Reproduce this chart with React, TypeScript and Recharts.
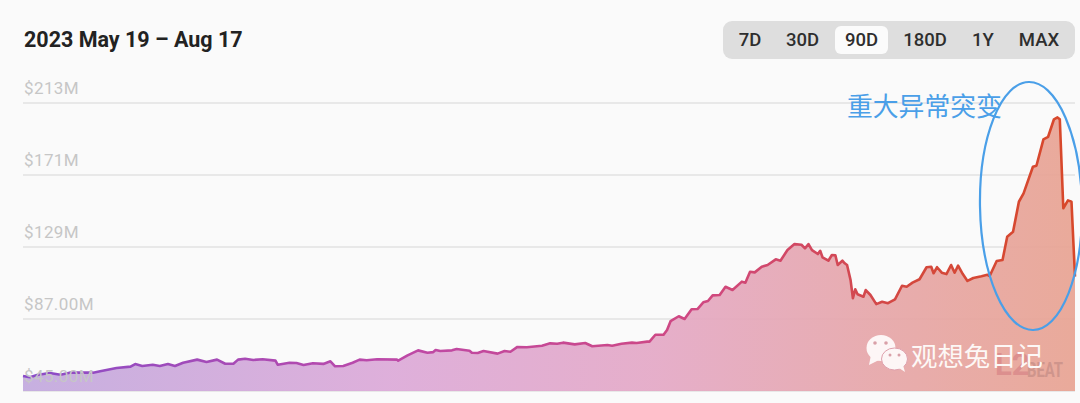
import React from 'react';
import { AreaChart, Area, XAxis, YAxis, CartesianGrid } from 'recharts';

// days since May 19 and TVL in $M
const days = [
  0, 0.6, 1.2, 2.3, 3.2, 4.0, 6.0, 6.6, 8.0, 9.2, 9.6, 10.2, 11.1, 11.7, 12.4, 13.0, 13.7, 14.9, 15.7, 16.6,
  17.3, 18.0, 18.4, 19.0, 19.7, 20.5, 21.6, 21.8, 22.8, 23.4, 24.0, 24.8, 25.7, 26.3, 26.7, 27.4, 28.2, 28.8, 29.4, 30.3,
  32.0, 32.1, 32.9, 33.8, 34.6, 35.1, 35.3, 35.7, 36.7, 37.1, 38.2, 38.4, 38.9, 39.4, 40.6, 41.2, 41.7, 42.3, 43.1, 44.4,
  45.1, 45.7, 46.2, 47.2, 48.1, 48.7, 50.0, 50.4, 51.2, 52.1, 52.5, 53.4, 53.6, 54.1, 54.8, 55.1, 55.4, 56.1, 56.6, 57.2,
  57.7, 58.2, 58.6, 59.0, 59.6, 60.1, 60.7, 61.5, 61.8, 62.2, 62.6, 63.2, 63.7, 64.4, 64.8, 65.4, 66.0, 66.6, 66.9, 67.2,
  67.5, 68.0, 68.2, 68.4, 68.9, 69.2, 69.5, 69.7, 70.1, 70.3, 70.5, 70.8, 71.0, 71.2, 71.4, 71.9, 72.1, 72.5, 73.0, 73.5,
  74.0, 74.6, 75.2, 75.6, 76.1, 76.7, 77.3, 77.7, 77.9, 78.2, 78.6, 79.0, 79.4, 79.7, 80.0, 80.4, 80.8, 81.3, 82.0, 82.5,
  82.7, 83.3, 83.8, 84.2, 84.7, 85.2, 85.6, 86.4, 86.7, 87.3, 87.7, 88.2, 88.5, 88.7, 89.0, 89.4, 89.7, 90,
];
const tvl = [
  53.8, 53.0, 54.3, 55.5, 54.5, 55.7, 55.7, 56.5, 58.4, 59.2, 60.7, 59.6, 60.3, 59.6, 60.7, 59.6, 61.5, 63.3, 61.9, 63.3,
  60.9, 60.9, 63.3, 63.8, 63.1, 63.5, 62.7, 60.3, 61.5, 61.3, 60.2, 61.2, 60.8, 62.3, 59.4, 59.6, 61.5, 63.3, 62.9, 63.5,
  63.3, 62.7, 65.8, 68.7, 67.3, 67.7, 68.9, 68.3, 68.7, 69.5, 68.5, 67.3, 67.2, 68.3, 66.8, 68.3, 67.9, 70.7, 70.5, 71.4,
  72.8, 72.6, 73.2, 72.2, 73.0, 71.1, 71.8, 71.4, 72.6, 73.2, 73.0, 73.8, 73.8, 77.8, 77.8, 80.6, 85.7, 88.6, 87.0, 92.7,
  92.8, 96.7, 97.5, 100.8, 101.0, 105.8, 103.9, 108.8, 108.2, 114.6, 114.2, 117.5, 118.5, 121.8, 121.0, 127.2, 130.7, 130.3, 128.2, 130.7,
  127.2, 124.9, 126.8, 123.0, 121.0, 124.3, 124.2, 118.5, 121.0, 119.5, 118.5, 109.7, 99.1, 104.3, 101.4, 100.0, 103.9, 101.0, 95.7, 97.1,
  96.2, 98.5, 106.4, 105.8, 108.2, 110.2, 117.2, 117.5, 113.7, 117.2, 114.0, 113.2, 118.5, 114.0, 118.1, 113.2, 109.2, 110.9, 111.9, 112.8,
  112.1, 120.8, 121.4, 135.0, 137.9, 155.4, 160.3, 175.8, 176.4, 191.8, 193.3, 203.5, 204.6, 203.5, 151.6, 156.2, 155.4, 111.7,
];
const yTicks = [45, 87, 129, 171, 213];
const yLabels = ['$45.00M', '$87.00M', '$129M', '$171M', '$213M'];
const ranges = ['7D', '30D', '90D', '180D', '1Y', 'MAX'];
const rangeWidths = [48, 57, 53, 74, 42, 70];

const chartData = days.map((d, i) => ({ day: d, value: tvl[i] }));

const YTick = ({ y, index }: any) => (
  <text x={24} y={y - 9} fill="#c6c6c6" fontSize={17} fontFamily="Roboto" letterSpacing={0.4}>
    {yLabels[index]}
  </text>
);

export default function App() {
  return (
    <div style={{ position: 'absolute', left: 0, top: 0, width: 1080, height: 403, background: '#fafafa', overflow: 'hidden' }}>
      <div style={{ position: 'absolute', left: 24, top: 27, fontFamily: 'Roboto', fontWeight: 700, fontSize: 21.5, lineHeight: '26px', color: '#222' }}>
        2023 May 19 – Aug 17
      </div>

      {/* range switch */}
      <div style={{ position: 'absolute', left: 723, top: 21, width: 352, height: 38, background: '#dedede', borderRadius: 9, display: 'flex', alignItems: 'center', paddingLeft: 3, boxSizing: 'border-box' }}>
        {ranges.map((r, i) => (
          <div key={r} style={{
            width: rangeWidths[i], height: 28, lineHeight: '28px', textAlign: 'center', borderRadius: 6, marginLeft: r === '90D' ? 4 : 0,
            background: r === '90D' ? '#fbfbfb' : 'transparent', fontFamily: 'Roboto', fontWeight: 500, fontSize: 18.5, color: '#2e2e2e',
          }}>{r}</div>
        ))}
      </div>

      <AreaChart width={1080} height={403} data={chartData} margin={{ top: 103, right: 5, bottom: 12, left: 23 }} style={{ position: 'absolute', left: 0, top: 0 }}>
        <defs>
          <linearGradient id="lineGrad" x1="0" y1="0" x2="1" y2="0">
            <stop offset="0%" stopColor="#8a4cc8" />
            <stop offset="35%" stopColor="#bd49a8" />
            <stop offset="65%" stopColor="#d04880" />
            <stop offset="85%" stopColor="#d4483c" />
            <stop offset="100%" stopColor="#d8482a" />
          </linearGradient>
          <linearGradient id="fillGrad" x1="0" y1="0" x2="1" y2="0">
            <stop offset="0%" stopColor="#c2a9de" stopOpacity={0.92} />
            <stop offset="35%" stopColor="#dca9d8" stopOpacity={0.92} />
            <stop offset="60%" stopColor="#e4a8c6" stopOpacity={0.92} />
            <stop offset="80%" stopColor="#e6a6aa" stopOpacity={0.92} />
            <stop offset="100%" stopColor="#e8a392" stopOpacity={0.92} />
          </linearGradient>
        </defs>
        <CartesianGrid horizontal vertical={false} stroke="#e2e2e2" strokeWidth={1.5} />
        <XAxis type="number" dataKey="day" domain={[0, 90]} hide />
        <YAxis type="number" domain={[45, 213]} ticks={yTicks} mirror width={1} axisLine={false} tickLine={false} tick={<YTick />} interval={0} />
        <Area type="linear" dataKey="value" stroke="url(#lineGrad)" strokeWidth={2.6} strokeLinejoin="round" fill="url(#fillGrad)" fillOpacity={1} baseValue={45} dot={false} activeDot={false} isAnimationActive={false} />
      </AreaChart>

      {/* hand-drawn annotation on top of the chart */}
      <div style={{ position: 'absolute', left: 847, top: 87, fontFamily: '"Noto Sans CJK SC"', fontSize: 25.8, lineHeight: '36px', color: '#4a9fe8', whiteSpace: 'nowrap' }}>
        重大异常突变
      </div>
      <svg width={1080} height={403} style={{ position: 'absolute', left: 0, top: 0 }}>
        <ellipse cx={1031} cy={206} rx={51} ry={124} fill="none" stroke="#4a9fe8" strokeWidth={2.2} transform="rotate(-1 1031 206)" />
        {/* wechat mark */}
        <ellipse cx={881} cy={348} rx={14.5} ry={13} fill="#fdf6f6" />
        <path d="M871 355 L869 365 L879 360 Z" fill="#fdf6f6" />
        <ellipse cx={894.5} cy={359} rx={13} ry={11} fill="#fdf6f6" stroke="#dfa0ac" strokeWidth={1} />
        <path d="M899 368 L905 372 L903 365 Z" fill="#fdf6f6" />
        <circle cx={875} cy={343} r={1.8} fill="#d9a0a8" />
        <circle cx={886} cy={343} r={1.8} fill="#d9a0a8" />
        <circle cx={890} cy={355} r={1.5} fill="#d9a0a8" />
        <circle cx={899} cy={355} r={1.5} fill="#d9a0a8" />
        <text x={995} y={375} fontFamily="Roboto" fontWeight={700} fontSize={31} fill="#dc8f8e">L2</text>
        <text x={1027} y={377} fontFamily="Roboto" fontWeight={700} fontSize={20} fill="#cf958c" textLength={36} lengthAdjust="spacingAndGlyphs">BEAT</text>
      </svg>
      <div style={{ position: 'absolute', left: 911, top: 336, fontFamily: '"Noto Sans CJK SC"', fontSize: 26.4, lineHeight: '38px', color: '#fdf8f6', whiteSpace: 'nowrap' }}>
        观想兔日记
      </div>
    </div>
  );
}
